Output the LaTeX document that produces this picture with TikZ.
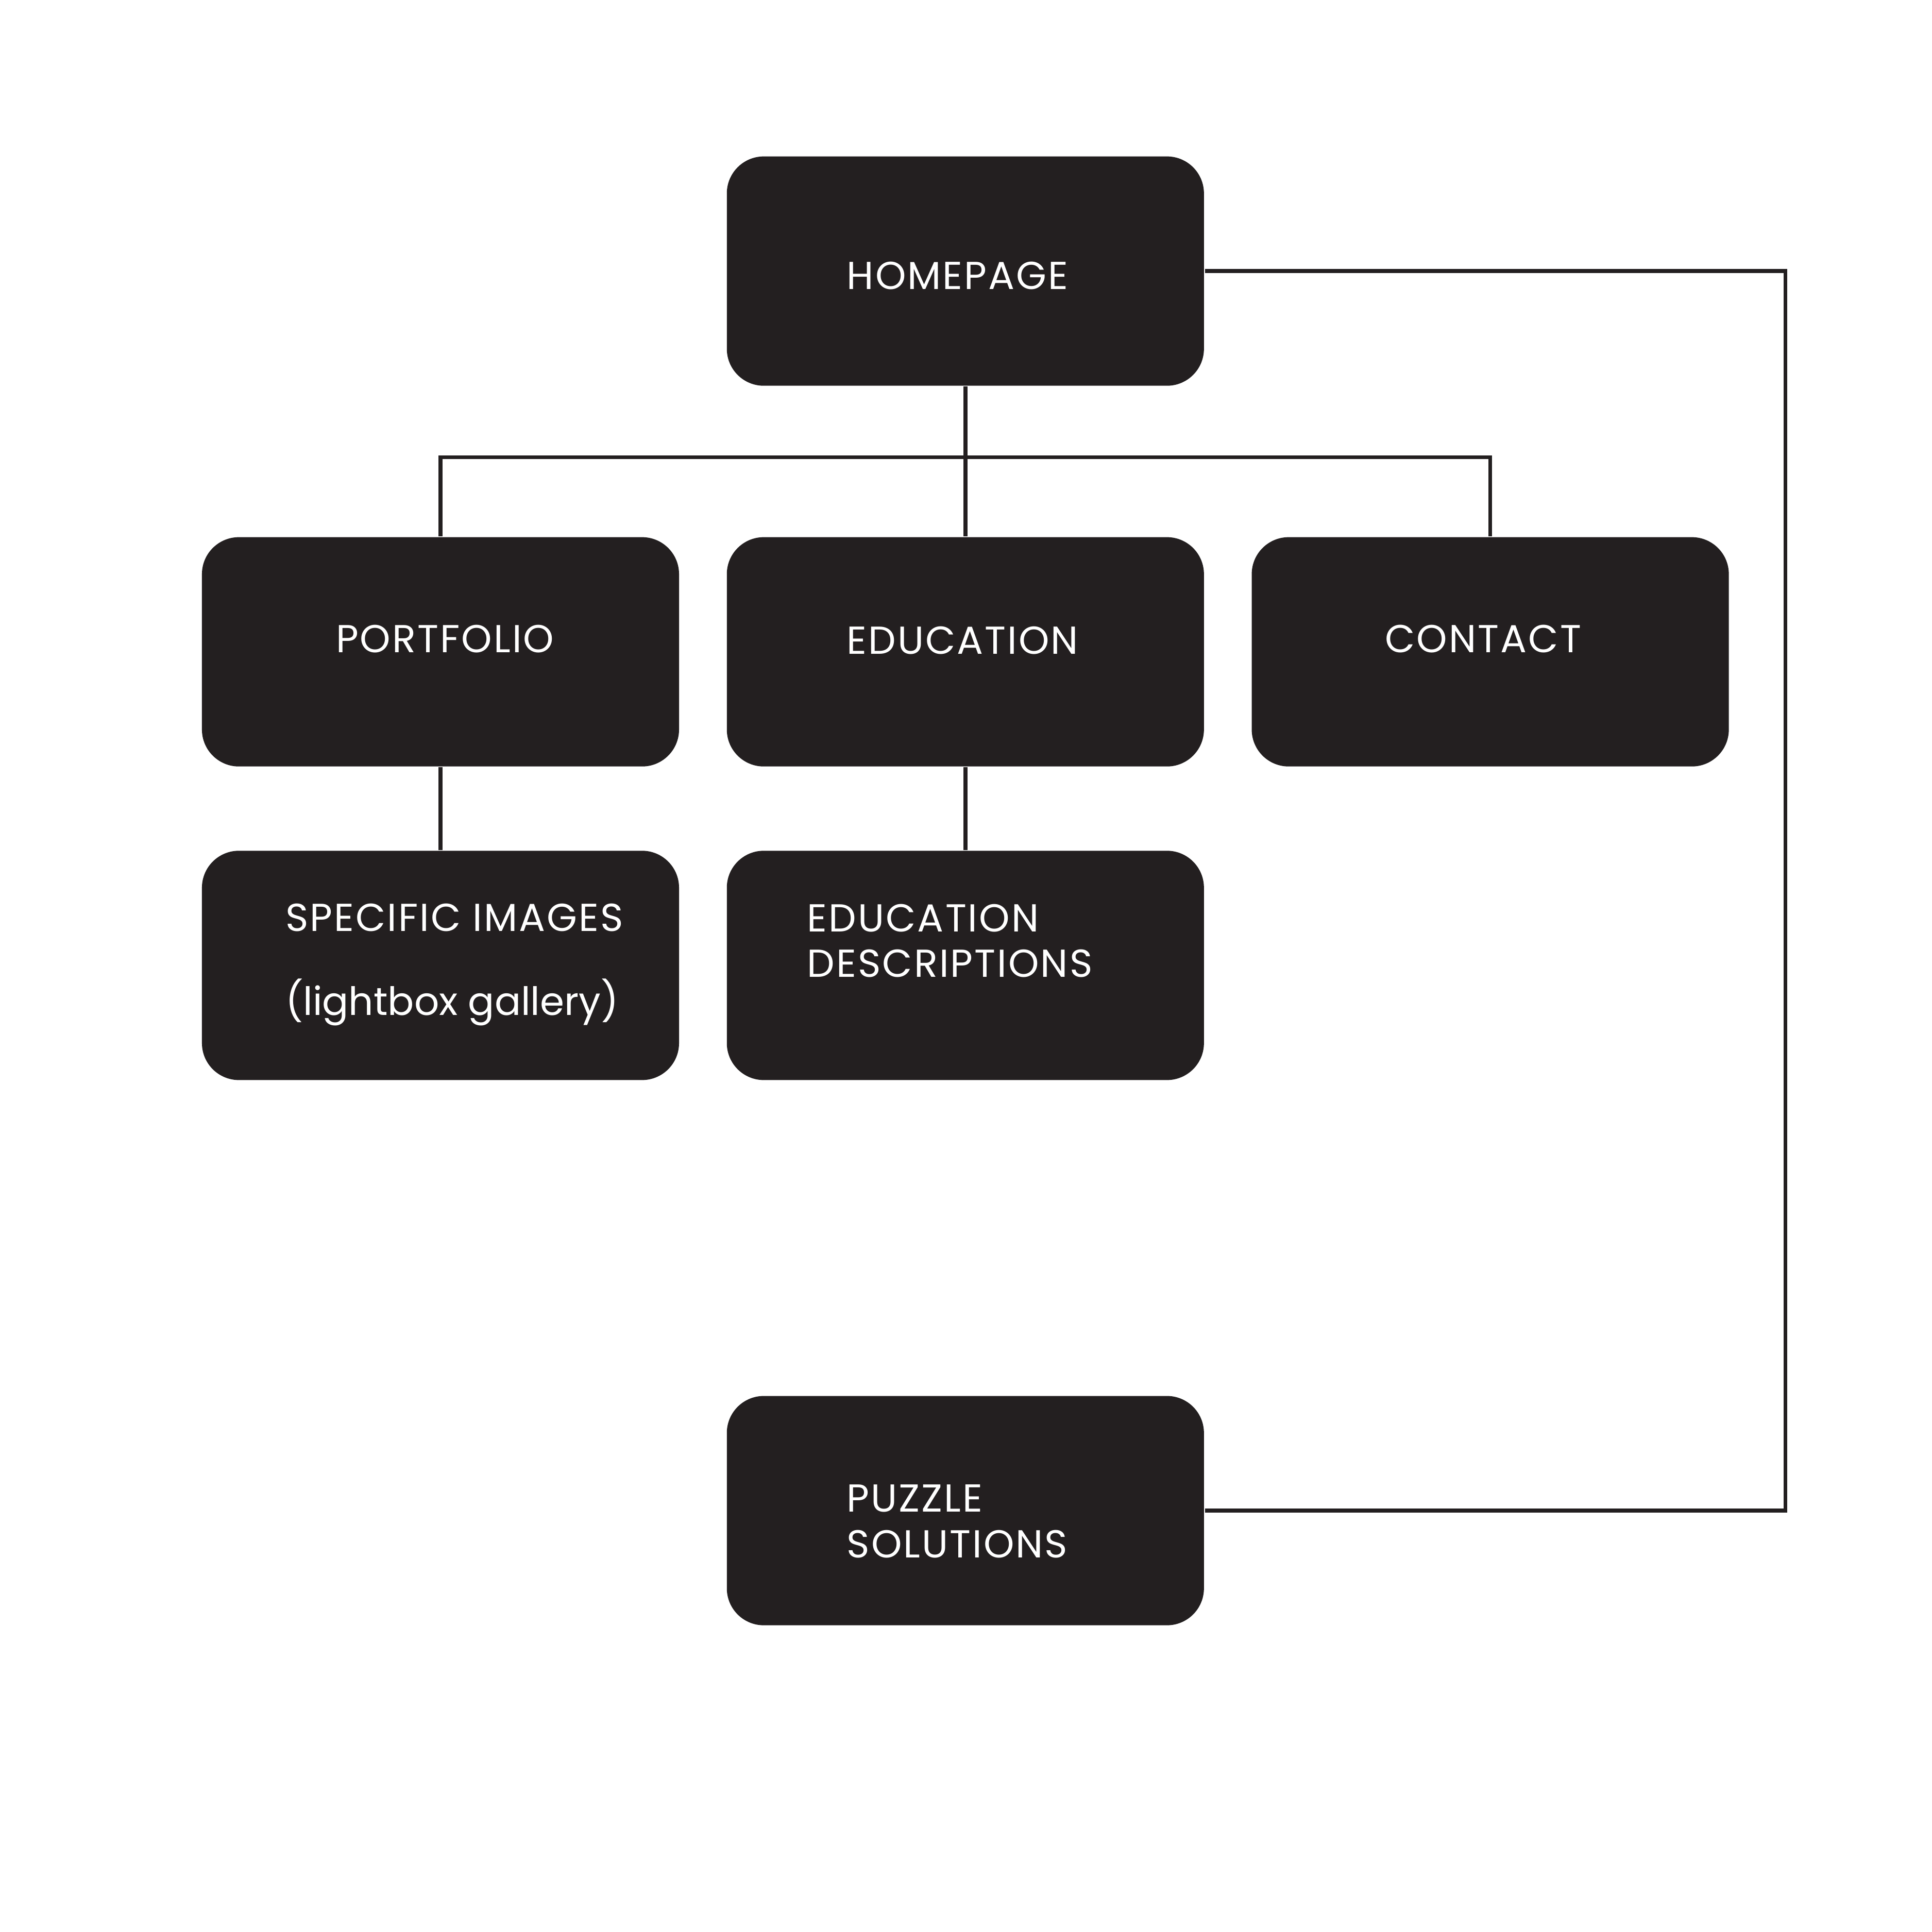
\documentclass[tikz,border=0pt]{standalone}
\usepackage{fontspec}
\setmainfont{Poppins}[LetterSpace=4]
\newfontfamily\plainfont{Poppins}
\usepackage{xcolor}
\usepackage{tikz}
\usetikzlibrary{positioning,calc}
\definecolor{boxblack}{HTML}{231F20}
\tikzset{
  pagebox/.style={
    rectangle, rounded corners=0.3cm, fill=boxblack, draw=none,
    minimum width=3.87cm, minimum height=1.86cm, inner sep=0pt
  },
  boxtext/.style={
    text=white, inner sep=0pt, anchor=base west, align=left,
    font=\fontsize{9}{10.5}\selectfont
  },
  link/.style={draw=boxblack, line width=0.9pt}
}

\begin{document}
\begin{tikzpicture}[x=0.01cm, y=-0.01cm]
\fill[white] (0,0) rectangle (1568,1568);

% boxes
\node[pagebox] (home)    at (783.5,220)  {};
\node[pagebox] (port)    at (357.5,529)  {};
\node[pagebox] (edu)     at (783.5,529)  {};
\node[pagebox] (contact) at (1209.5,529) {};
\node[pagebox] (img)     at (357.5,783.5) {};
\node[pagebox] (desc)    at (783.5,783.5) {};
\node[pagebox] (puzzle)  at (783.5,1226) {};

% box texts (base = last line)
\node[boxtext] (hometext)    at (686.6,234.9) {HOMEPAGE};
\node[boxtext] (porttext)    at (272,529.7)   {PORTFOLIO};
\node[boxtext] (edutext)     at (686.6,531)   {EDUCATION};
\node[boxtext] (contacttext) at (1123.4,529.7) {CONTACT};
\node[boxtext] (imgtext)     at (231,824)     {SPECIFIC IMAGES\\[8.9pt]{\plainfont(lightbox gallery)}};
\node[boxtext] (desctext)    at (654.5,793)   {EDUCATION\\DESCRIPTIONS};
\node[boxtext] (puzzletext)  at (686.6,1264)  {PUZZLE\\SOLUTIONS};

\coordinate (bus) at (783.5,371);
\coordinate (loop) at (1449,220);

% connectors
\draw[link] (home.south) -- (edu.north);
\draw[link] (port.north) |- (bus) -| (contact.north);
\draw[link] (port.south) -- (img.north);
\draw[link] (edu.south) -- (desc.north);
\draw[link] (home.east) -- (loop) -- (loop |- puzzle.east) -- (puzzle.east);
\end{tikzpicture}
\end{document}
